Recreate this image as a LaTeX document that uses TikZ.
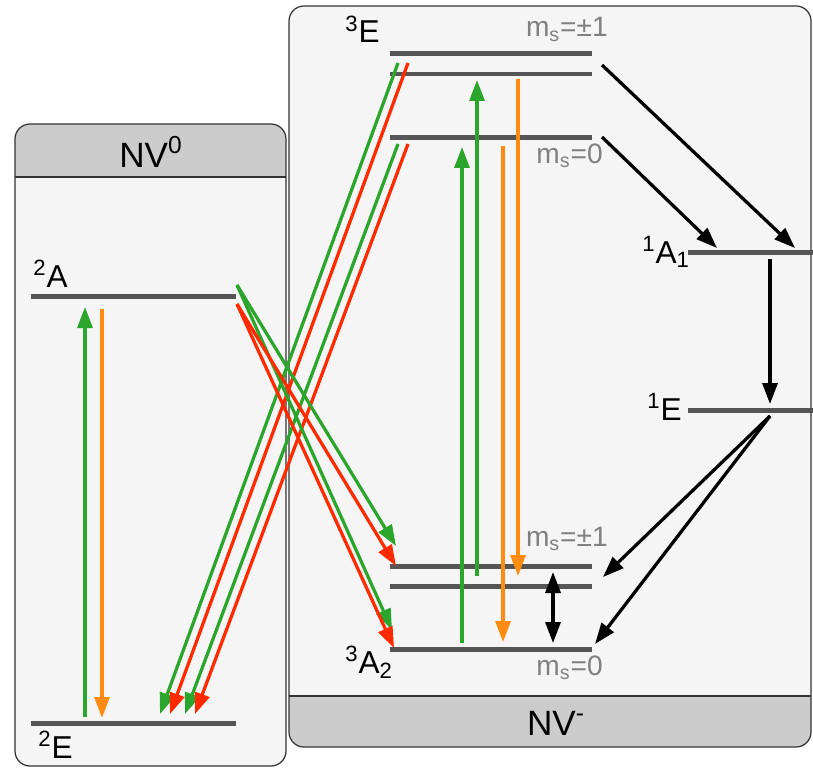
\documentclass[tikz,border=0pt]{standalone}
\usepackage{fontspec}
\setmainfont{Liberation Sans}
\usetikzlibrary{arrows.meta}
\definecolor{nvInk}{HTML}{333333}
\definecolor{nvPanel}{HTML}{F5F5F5}
\definecolor{nvHead}{HTML}{CCCCCC}
\definecolor{nvLevel}{HTML}{555555}
\definecolor{nvMs}{HTML}{808080}
\definecolor{nvGreen}{HTML}{2CA52C}
\definecolor{nvRed}{HTML}{FF2A00}
\definecolor{nvOrange}{HTML}{FF8C10}
\tikzset{
  panel/.style  ={draw=nvInk,line width=0.7pt,rounded corners=0.3cm},
  level/.style  ={nvLevel,line width=0.1cm},
  trans/.style  ={-{Triangle[length=0.42cm,width=0.3cm]},line width=0.065cm},
  exc/.style    ={trans,nvGreen},
  emo/.style    ={trans,nvOrange},
  emr/.style    ={trans,nvRed},
  nonrad/.style ={trans,black},
  mwave/.style  ={{Triangle[length=0.42cm,width=0.3cm]}-{Triangle[length=0.42cm,width=0.3cm]},
                  line width=0.065cm,black},
  lbl/.style    ={font=\fontsize{18}{20}\selectfont,inner sep=0pt},
  mslbl/.style  ={font=\fontsize{16}{18}\selectfont,text=nvMs,inner sep=0pt},
  title/.style  ={font=\fontsize{20}{24}\selectfont,inner sep=0pt},
}

\begin{document}
\begin{tikzpicture}[x=0.02cm,y=-0.02cm]
\useasboundingbox (0,0) rectangle (813,767);
%% panels
\foreach \xa/\ya/\xb/\yb/\ha/\hb in {15/124/286/766/124/177, 289/6/811/747/696/747}
  { \begin{scope}
      \clip[rounded corners=0.3cm] (\xa,\ya) rectangle (\xb,\yb);
      \fill[nvPanel] (\xa,\ya) rectangle (\xb,\yb);
      \fill[nvHead] (\xa,\ha) rectangle (\xb,\hb);
    \end{scope}
    \draw[panel] (\xa,\ya) rectangle (\xb,\yb); }
\draw[nvInk,line width=0.7pt] (15,177) -- (286,177);
\draw[nvInk,line width=0.7pt] (289,696) -- (811,696);
\node[title,anchor=base] (nv0) at (151,167) {NV\textsuperscript{0}};
\node[title,anchor=base] (nvm) at (556,735) {NV\textsuperscript{-}};

%% levels
\foreach \xa/\xb/\y in {31/236/296, 31/236/723, 390/592/54, 390/592/74, 390/592/137,
                        390/592/566, 390/592/586, 390/592/649, 688/813/252, 688/813/410}
  \draw[level] (\xa,\y) -- (\xb,\y);
\node[lbl,anchor=base west] (t2A) at (33,287) {\textsuperscript{2}A};
\node[lbl,anchor=base west] (t2E) at (38,758) {\textsuperscript{2}E};
\node[lbl,anchor=base west] (t3E) at (345,43) {\textsuperscript{3}E};
\node[lbl,anchor=base west] (t3A) at (345,673) {\textsuperscript{3}A\textsubscript{2}};
\node[lbl,anchor=base west] (t1A) at (642,263) {\textsuperscript{1}A\textsubscript{1}};
\node[lbl,anchor=base west] (t1E) at (647,420) {\textsuperscript{1}E};
\node[mslbl,anchor=base east] (msEp) at (608,37) {m\textsubscript{s}=±1};
\node[mslbl,anchor=base east] (msEz) at (603,163) {m\textsubscript{s}=0};
\node[mslbl,anchor=base east] (msAp) at (608,546) {m\textsubscript{s}=±1};
\node[mslbl,anchor=base east] (msAz) at (603,675) {m\textsubscript{s}=0};

%% end points
\foreach \n/\x/\y in {p0s/85/717, p0e/85/307, o0s/102/309, o0e/102/718,
    p1s/462/643, p1e/462/147, p2s/477/576, p2e/477/80,
    o1s/503/146, o1e/503/642, o2s/518/79, o2e/518/576,
    k1s/602/65, k1e/795/248, k2s/602/137, k2e/717/248,
    k3s/770/259, k3e/770/404, k4s/770/416, k4e/603/577, k5e/595/644,
    dbs/553/572, dbe/553/643,
    gTs/398/63, gTe/160/714, rTs/408/63, rTe/170/714,
    gBs/398/144, gBe/185/714, rBs/408/144, rBe/195/714,
    gAs/237/285, gAe/396/546, gZe/392/630,
    rAs/237/304, rAe/396/566, rZe/394/648}
  \coordinate (\n) at (\x,\y);

%% NV0
\draw[exc] (p0s) -- (p0e);
\draw[emo] (o0s) -- (o0e);
%% NV-
\draw[exc] (p1s) -- (p1e);
\draw[exc] (p2s) -- (p2e);
\draw[emo] (o1s) -- (o1e);
\draw[emo] (o2s) -- (o2e);
\draw[nonrad] (k1s) -- (k1e);
\draw[nonrad] (k2s) -- (k2e);
\draw[nonrad] (k3s) -- (k3e);
\draw[nonrad] (k4s) -- (k4e);
\draw[nonrad] (k4s) -- (k5e);
\draw[mwave] (dbs) -- (dbe);
%% charge conversion
\draw[exc] (gTs) -- (gTe);
\draw[exc] (gBs) -- (gBe);
\draw[emr] (rTs) -- (rTe);
\draw[emr] (rBs) -- (rBe);
\draw[exc] (gAs) -- (gAe);
\draw[exc] (gAs) -- (gZe);
\draw[emr] (rAs) -- (rAe);
\draw[emr] (rAs) -- (rZe);
\end{tikzpicture}
\end{document}
